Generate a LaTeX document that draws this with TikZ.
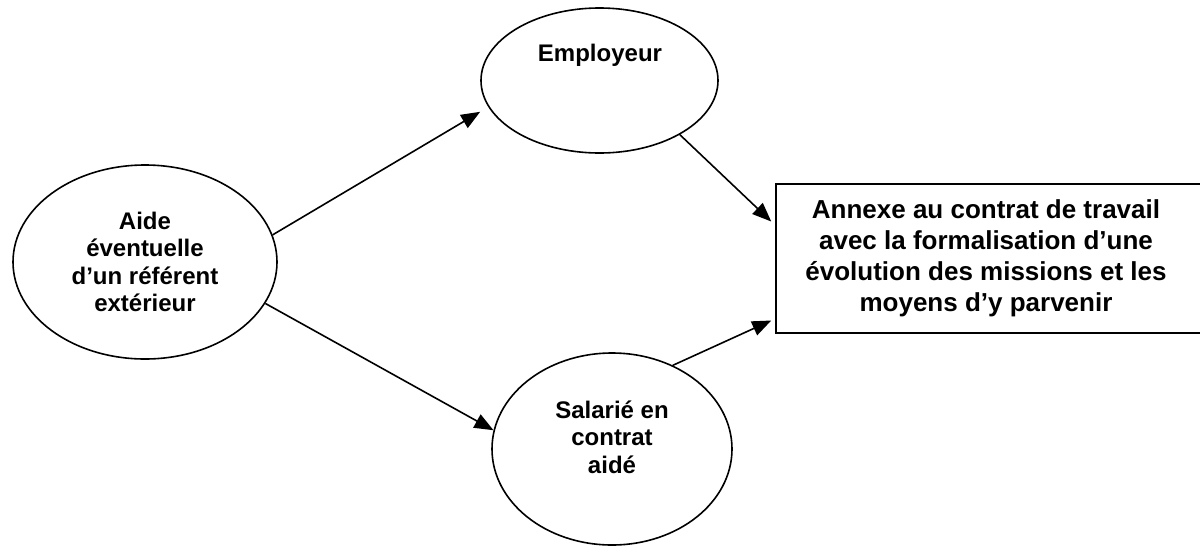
\documentclass[tikz,border=0pt]{standalone}
\usepackage{fontspec}
\setmainfont{Liberation Sans}
\usetikzlibrary{shapes.geometric,arrows.meta}
\begin{document}
\begin{tikzpicture}[x=1pt,y=-1pt,
  bubble/.style={draw,ellipse,line width=1.6pt,inner sep=0pt},
  bubbletext/.style={align=center,inner sep=0pt,font=\fontsize{24}{27.5}\selectfont\bfseries},
  docbox/.style={draw,rectangle,line width=1.5pt,inner sep=0pt},
  doctext/.style={align=center,inner sep=0pt,font=\fontsize{26}{31}\selectfont\bfseries},
  link/.style={line width=1.6pt,-{Triangle[length=19pt,width=15pt]}}]
\useasboundingbox (0,0) rectangle (1200,547);
\clip (0,0) rectangle (1200,547);
% nodes
\node[bubble,minimum width=264pt,minimum height=194pt] (aide) at (145,262) {};
\node[bubbletext] (aidet) at (145,262) {Aide\\éventuelle\\d’un référent\\extérieur};
\node[bubble,minimum width=237pt,minimum height=145pt] (emp) at (599.5,80.5) {};
\node[bubbletext] (empt) at (600,55) {Employeur};
\node[bubble,minimum width=240pt,minimum height=192pt] (sal) at (612,449) {};
\node[bubbletext] (salt) at (612,437) {Salarié en\\contrat\\aidé};
% the box runs on past the right edge
\node[docbox,minimum width=434pt,minimum height=149pt] (box) at (993,258.5) {};
\node[doctext] (boxt) at (986,258.5)
  {Annexe au contrat de travail\\avec la formalisation d’une\\évolution des missions et les\\moyens d’y parvenir};
% connectors
\draw[link] (aide.12) -- ([xshift=-10pt,yshift=-2pt]emp.195);
\draw[link] (aide.-19) -- (sal.171);
\draw[link] (emp.-34) -- ([xshift=-4pt,yshift=37pt]box.west);
\draw[link] (sal.54) -- ([xshift=-4pt,yshift=-62pt]box.west);
\end{tikzpicture}
\end{document}
